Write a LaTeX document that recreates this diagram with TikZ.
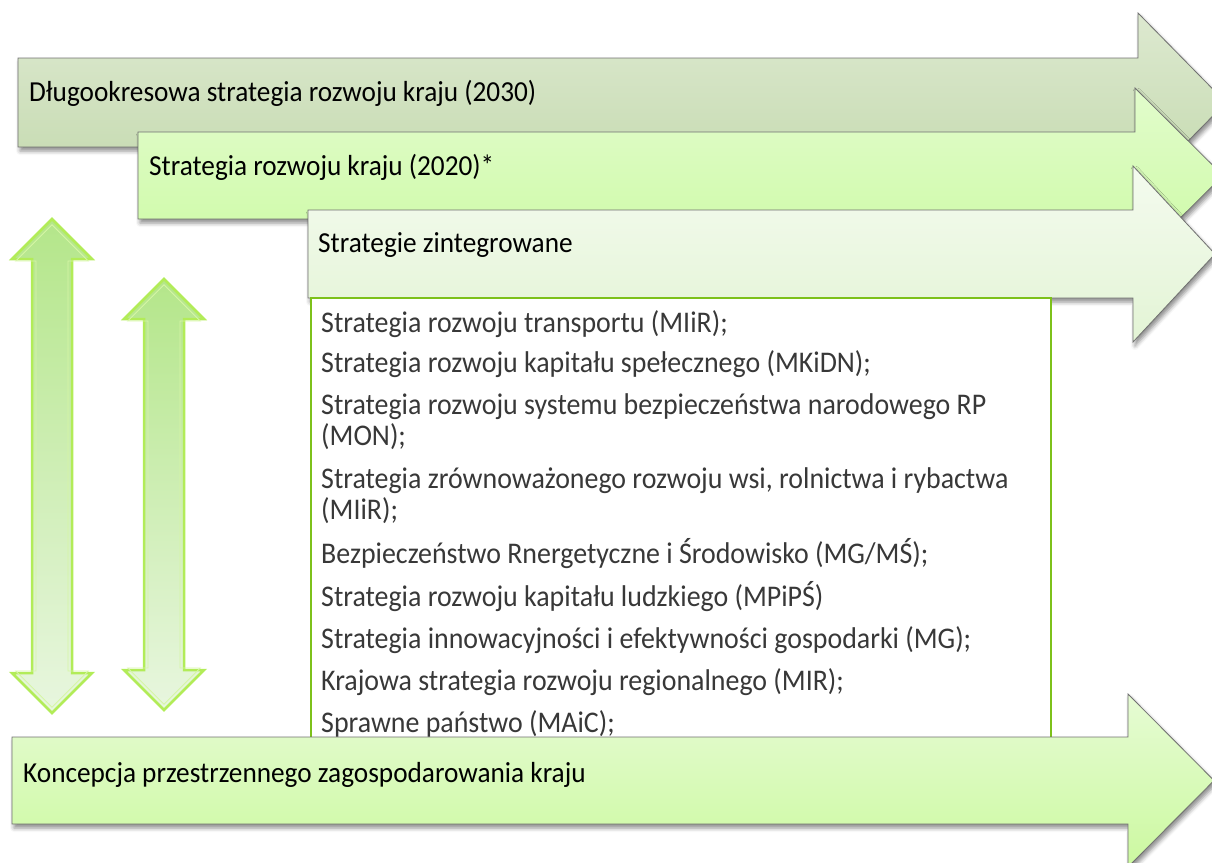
\documentclass[tikz,border=0pt]{standalone}
\usepackage{fontspec}
\setmainfont{Carlito}
\newfontfamily\titlefont{Carlito}[FakeStretch=0.94]
\newfontfamily\boxfont{Carlito}[FakeStretch=0.93]
\usetikzlibrary{shadows.blur}
\definecolor{aOneTop}{HTML}{DDE9D0}
\definecolor{aOneBot}{HTML}{C3D9AD}
\definecolor{aTwoTop}{HTML}{E2FCCC}
\definecolor{aTwoBot}{HTML}{CCFAA4}
\definecolor{aThrTop}{HTML}{F4FBEF}
\definecolor{aThrBot}{HTML}{E3F4D5}
\definecolor{aFourTop}{HTML}{E6FBD4}
\definecolor{aFourBot}{HTML}{CCF9A0}
\definecolor{edgegray}{HTML}{707070}
\definecolor{boxgreen}{HTML}{7DC11A}
\definecolor{vTop}{HTML}{B4E68A}
\definecolor{vBot}{HTML}{E8F6DF}
\definecolor{vEdge}{HTML}{B2EC58}
\definecolor{vInner}{HTML}{D6F6A6}
\tikzset{
  bigarrow/.style={draw=edgegray, line width=0.8pt, line join=miter,
    blur shadow={shadow xshift=2pt, shadow yshift=-4pt, shadow blur radius=4pt, shadow opacity=45}},
  titletext/.style={anchor=base west, inner sep=0pt, font=\titlefont\fontsize{29}{34}\selectfont},
  listtext/.style={anchor=base west, inner sep=0pt, text=black!78, font=\boxfont\fontsize{30}{34}\selectfont},
  vshaft/.style={top color=vTop, bottom color=vBot, draw=vEdge, line width=2.5pt, line join=miter},
  vinner/.style={draw=vInner, line width=0.8pt, line join=miter},
}
\begin{document}
\begin{tikzpicture}[x=1pt, y=-1pt]
\useasboundingbox (0,0) rectangle (1212,862);
\clip (0,0) rectangle (1212,862);

% vertical double arrows
\path[vshaft] (52,219) -- (92,259) -- (72,259) -- (72,673) -- (92,673) -- (52,713) -- (12,673) -- (32,673) -- (32,259) -- (12,259) -- cycle;
\path[vinner] (52,224.7) -- (88.3,261) -- (68,261) -- (68,671) -- (88.3,671) -- (52,707.3) -- (15.7,671) -- (36,671) -- (36,261) -- (15.7,261) -- cycle;
\path[vshaft] (164,279) -- (204,319) -- (184,319) -- (184,670) -- (204,670) -- (164,710) -- (124,670) -- (144,670) -- (144,319) -- (124,319) -- cycle;
\path[vinner] (164,284.7) -- (200.3,321) -- (180,321) -- (180,668) -- (200.3,668) -- (164,704.3) -- (127.7,668) -- (148,668) -- (148,321) -- (127.7,321) -- cycle;

% horizontal arrows
\path[bigarrow, top color=aOneTop, bottom color=aOneBot]
  (18,58) -- (1138,58) -- (1138,13) -- (1226,102.5) -- (1138,192) -- (1138,147) -- (18,147) -- cycle;
\node[titletext] (t1) at (29,101) {Długookresowa strategia rozwoju kraju (2030)};

\path[bigarrow, top color=aTwoTop, bottom color=aTwoBot]
  (138,132) -- (1135,132) -- (1135,88) -- (1223,175.5) -- (1135,263) -- (1135,219) -- (138,219) -- cycle;
\node[titletext] (t2) at (149,175) {Strategia rozwoju kraju (2020)*};

\path[bigarrow, top color=aThrTop, bottom color=aThrBot]
  (308,210) -- (1133,210) -- (1133,166) -- (1215,254) -- (1133,342) -- (1133,298) -- (308,298) -- cycle;
\node[titletext] (t3) at (318,252) {Strategie zintegrowane};

% list box
\path[fill=white, draw=boxgreen, line width=1.5pt] (311,298) rectangle (1051,760);
\node[listtext] (l1) at (321,332) {Strategia rozwoju transportu (MIiR);};
\node[listtext] (l2) at (321,372) {Strategia rozwoju kapitału spełecznego (MKiDN);};
\node[listtext] (l3) at (321,414) {Strategia rozwoju systemu bezpieczeństwa narodowego RP};
\node[listtext] (l3b) at (321,445) {(MON);};
\node[listtext] (l4) at (321,488) {Strategia zrównoważonego rozwoju wsi, rolnictwa i rybactwa};
\node[listtext] (l4b) at (321,519) {(MIiR);};
\node[listtext] (l5) at (321,563) {Bezpieczeństwo Rnergetyczne i Środowisko (MG/MŚ);};
\node[listtext] (l6) at (321,606) {Strategia rozwoju kapitału ludzkiego (MPiPŚ)};
\node[listtext] (l7) at (321,648) {Strategia innowacyjności i efektywności gospodarki (MG);};
\node[listtext] (l8) at (321,690) {Krajowa strategia rozwoju regionalnego (MIR);};
\node[listtext] (l9) at (321,732) {Sprawne państwo (MAiC);};

\path[bigarrow, top color=aFourTop, bottom color=aFourBot]
  (12,737) -- (1128,737) -- (1128,694) -- (1214,780.5) -- (1128,867) -- (1128,824) -- (12,824) -- cycle;
\node[titletext] (t4) at (23,782) {Koncepcja przestrzennego zagospodarowania kraju};
\end{tikzpicture}
\end{document}
